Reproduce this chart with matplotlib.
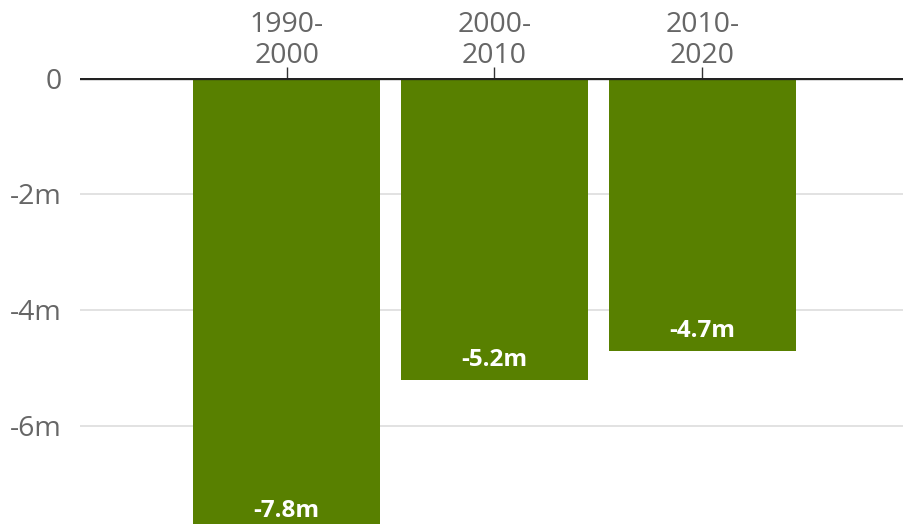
import matplotlib.pyplot as plt
import numpy as np

plt.rcParams['font.family'] = ['Open Sans', 'Noto Sans', 'DejaVu Sans']

# Data
periods = ['1990-\n2000', '2000-\n2010', '2010-\n2020']
change = [-7.8, -5.2, -4.7]
labels = ['-7.8m', '-5.2m', '-4.7m']
yticks = [0, -2, -4, -6]
yticklabels = ['0', '-2m', '-4m', '-6m']

fig = plt.figure(figsize=(9.04, 5.24), dpi=100)
ax = fig.add_axes([80 / 904, 0, 824 / 904, 446 / 524])

x = np.arange(len(periods))
ax.bar(x, change, width=0.9, color='#588000', zorder=2)

for xi, v, lab in zip(x, change, labels):
    ax.text(xi, v + 0.33, lab, ha='center', va='center', color='white',
            fontsize=17.5, fontweight='bold', zorder=3)

ax.axhline(0, color='#222222', linewidth=2.4, zorder=4)
for t in yticks[1:]:
    ax.axhline(t, color='#dddddd', linewidth=1.2, zorder=1)

ax.set_xlim(-0.995, 2.971)
ax.set_ylim(-7.69, 0)

ax.set_yticks(yticks)
ax.set_yticklabels(yticklabels)
ax.tick_params(axis='y', length=0, pad=13, labelsize=20.5, labelcolor='#666666')

ax.xaxis.tick_top()
ax.set_xticks(x)
ax.set_xticklabels(periods, linespacing=1.12)
ax.tick_params(axis='x', length=8, width=1, color='#333333', pad=-2,
               labelsize=20.5, labelcolor='#666666')

for s in ax.spines.values():
    s.set_visible(False)

plt.savefig('out.png', dpi=100)
